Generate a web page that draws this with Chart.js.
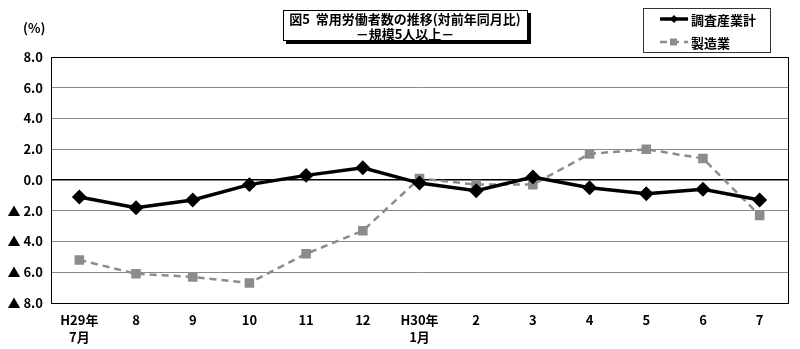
<!DOCTYPE html>
<html lang="ja">
<head>
<meta charset="utf-8">
<title>常用労働者数の推移</title>
<script src="https://cdn.jsdelivr.net/npm/chart.js@4/dist/chart.umd.min.js"></script>
<style>
  html, body { margin: 0; padding: 0; background: #fff; }
  #wrap { width: 800px; height: 349px; }
</style>
</head>
<body>
<div id="wrap"><canvas id="empChart" width="800" height="349"></canvas></div>
<script>
const months = [['H29年', '7月'], '8', '9', '10', '11', '12', ['H30年', '1月'], '2', '3', '4', '5', '6', '7'];
const allIndustries = [-1.1, -1.8, -1.3, -0.3, 0.3, 0.8, -0.2, -0.7, 0.2, -0.5, -0.9, -0.6, -1.3];
const manufacturing = [-5.2, -6.1, -6.3, -6.7, -4.8, -3.3, 0.1, -0.3, -0.3, 1.7, 2.0, 1.4, -2.3];
const yTicks = [-8, -6, -4, -2, 0, 2, 4, 6, 8];

const titleLines = ['図5  常用労働者数の推移(対前年同月比)', '－規模5人以上－'];
const fontFamily = '"Noto Sans CJK JP", "Noto Sans", sans-serif';

// frame, boxes and "(%)" drawn around the plot
const decor = {
  id: 'decor',
  beforeDatasetsDraw(chart) {
    const { ctx, chartArea: a } = chart;
    ctx.save();
    ctx.strokeStyle = '#000';
    ctx.lineWidth = 1;
    ctx.strokeRect(a.left + 0.5, a.top + 0.5, a.right - a.left, a.bottom - a.top);
    ctx.restore();
  },
  afterDraw(chart) {
    const ctx = chart.ctx;
    ctx.save();
    ctx.font = 'bold 13px ' + fontFamily;
    ctx.fillStyle = '#000';
    ctx.textBaseline = 'middle';
    ctx.fillText('(%)', 23, 28);

    // title box with shadow
    ctx.fillStyle = '#000';
    ctx.fillRect(286, 13, 245, 31);
    ctx.fillStyle = '#fff';
    ctx.fillRect(283, 10, 245, 31);
    ctx.strokeStyle = '#000';
    ctx.lineWidth = 1;
    ctx.strokeRect(283.5, 10.5, 244, 30);
    ctx.fillStyle = '#000';
    ctx.textAlign = 'center';
    ctx.fillText(titleLines[0], 405, 19);
    ctx.fillText(titleLines[1], 405, 34);

    // legend box
    ctx.strokeStyle = '#333';
    ctx.strokeRect(643.5, 8.5, 127, 44);
    ctx.textAlign = 'left';
    chart.data.datasets.forEach((ds, i) => {
      const y = 19 + i * 23;
      ctx.strokeStyle = ds.borderColor;
      ctx.lineWidth = ds.borderWidth;
      ctx.setLineDash(ds.borderDash || []);
      ctx.beginPath();
      ctx.moveTo(660, y);
      ctx.lineTo(688, y);
      ctx.stroke();
      ctx.setLineDash([]);
      ctx.fillStyle = ds.pointBackgroundColor;
      if (ds.pointStyle === 'rectRot') {
        ctx.beginPath();
        ctx.moveTo(674, y - 4); ctx.lineTo(678, y); ctx.lineTo(674, y + 4); ctx.lineTo(670, y);
        ctx.closePath();
        ctx.fill();
      } else {
        ctx.fillRect(670, y - 3.5, 7, 7);
      }
      ctx.fillStyle = '#000';
      ctx.fillText(ds.label, 691, y + 1);
    });
    ctx.restore();
  }
};

new Chart(document.getElementById('empChart'), {
  type: 'line',
  data: {
    labels: months,
    datasets: [{
      label: '調査産業計',
      data: allIndustries,
      borderColor: '#000',
      borderWidth: 3.5,
      pointStyle: 'rectRot',
      pointRadius: 5,
      pointBackgroundColor: '#000',
      pointBorderColor: '#000',
      tension: 0,
      order: 1
    }, {
      label: '製造業',
      data: manufacturing,
      borderColor: '#8c8c8c',
      borderWidth: 2.5,
      borderDash: [7, 5],
      pointStyle: 'rect',
      pointRadius: 5,
      pointBackgroundColor: '#8c8c8c',
      pointBorderColor: '#8c8c8c',
      tension: 0,
      order: 2
    }]
  },
  options: {
    responsive: false,
    animation: false,
    layout: { padding: { top: 57, right: 12, left: 0, bottom: 0 } },
    plugins: {
      legend: { display: false },
      tooltip: { enabled: false }
    },
    scales: {
      x: {
        offset: true,
        afterFit(scale) { scale.height = 46; },
        grid: { display: false, drawTicks: false },
        border: { display: false },
        ticks: {
          color: '#000',
          padding: 8,
          maxRotation: 0,
          autoSkip: false,
          font: { family: fontFamily, size: 13, weight: 'bold', lineHeight: 1.35 }
        }
      },
      y: {
        min: -8,
        max: 8,
        afterFit(scale) { scale.width = 51; },
        afterBuildTicks(scale) { scale.ticks = yTicks.map(v => ({ value: v })); },
        grid: {
          drawTicks: false,
          color: ctx => ctx.tick && ctx.tick.value === 0 ? '#000' : '#8a8a8a',
          lineWidth: ctx => ctx.tick && ctx.tick.value === 0 ? 1.5 : 1
        },
        border: { display: false },
        ticks: {
          color: '#000',
          padding: 8,
          font: { family: fontFamily, size: 13, weight: 'bold' },
          callback: v => v < 0 ? '▲ ' + Math.abs(v).toFixed(1) : v.toFixed(1)
        }
      }
    }
  },
  plugins: [decor]
});
</script>
</body>
</html>
